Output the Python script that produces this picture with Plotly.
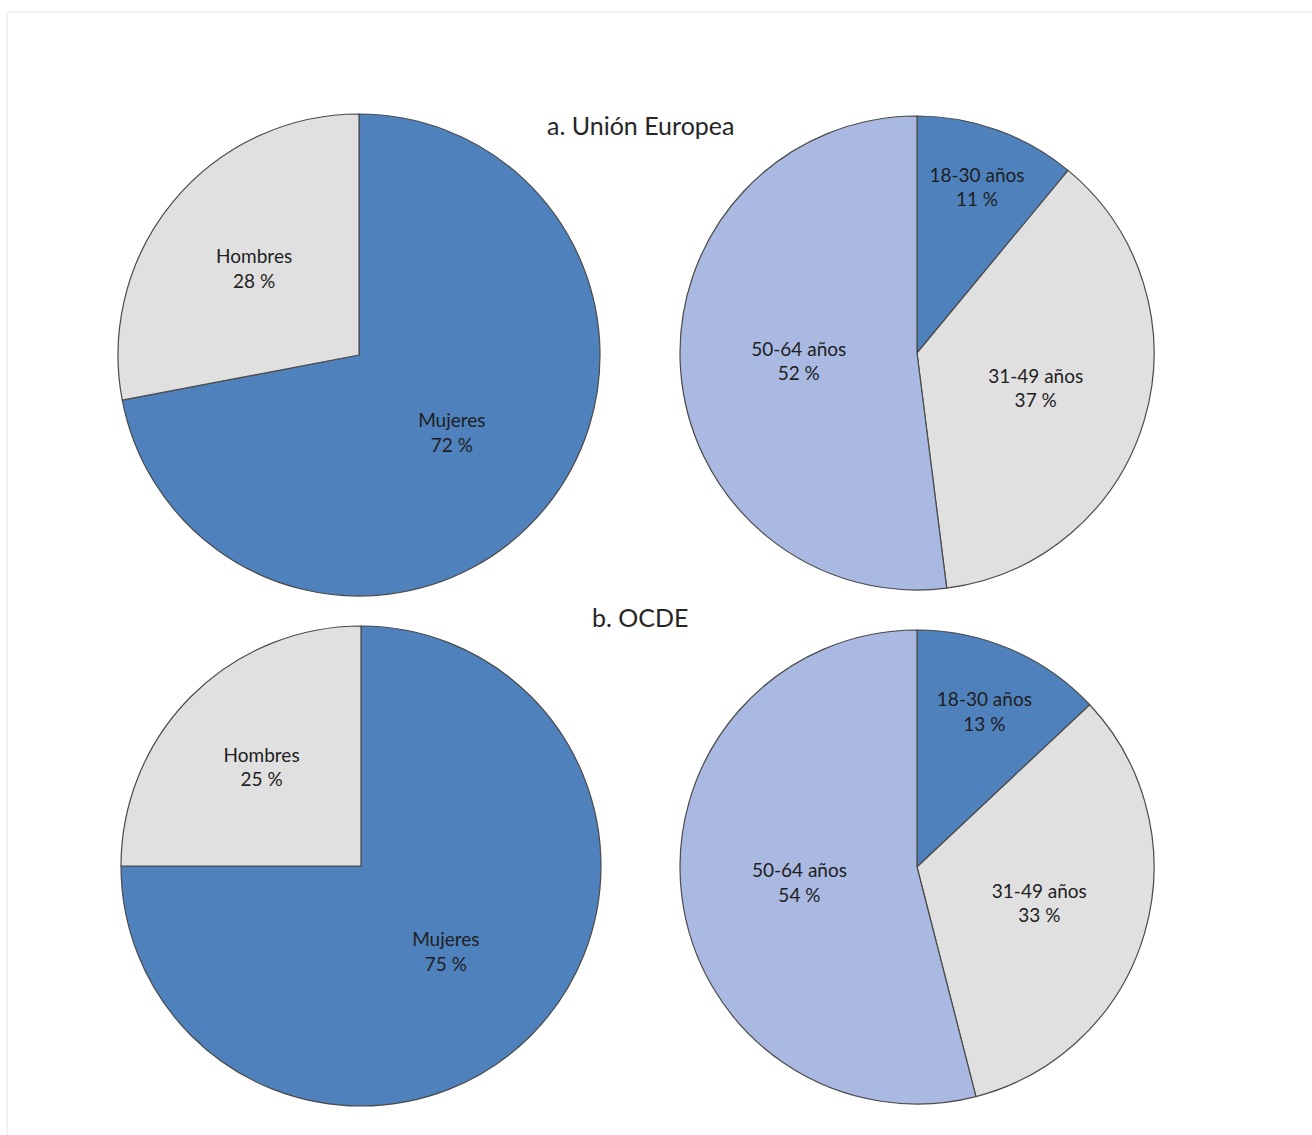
import plotly.graph_objects as go

sex_labels = ["Mujeres", "Hombres"]
age_labels = ["18-30 años", "31-49 años", "50-64 años"]
ue_sex = [72, 28]
ue_age = [11, 37, 52]
ocde_sex = [75, 25]
ocde_age = [13, 33, 54]
titles = ["a. Unión Europea", "b. OCDE"]

W, H = 1312, 1135
sex_colors = ["#4F81BD", "#E0E0E0"]
age_colors = ["#4F81BD", "#E0E0E0", "#A9B9E1"]
FONT = "Lato"

def dom(cx, cy, r):
    return dict(x=[(cx - r) / W, (cx + r) / W], y=[1 - (cy + r) / H, 1 - (cy - r) / H])

fig = go.Figure()
specs = [
    (sex_labels, ue_sex, sex_colors, dom(359, 355, 241)),
    (age_labels, ue_age, age_colors, dom(917, 353, 237)),
    (sex_labels, ocde_sex, sex_colors, dom(361, 866, 240)),
    (age_labels, ocde_age, age_colors, dom(917, 867, 237)),
]
for labels, vals, cols, d in specs:
    fig.add_trace(go.Pie(
        labels=labels, values=vals, sort=False, direction="clockwise", rotation=0,
        marker=dict(colors=cols, line=dict(color="#4A4A4A", width=1.2)),
        texttemplate="%{label}<br>%{value} %", textposition="inside",
        insidetextorientation="horizontal",
        insidetextfont=dict(family=FONT, size=19, color="#1e1e1e"),
        domain=d, showlegend=False, hoverinfo="label+value",
    ))

for t, ypx in zip(titles, [125, 617]):
    fig.add_annotation(text=t, x=640 / W, y=1 - ypx / H, xref="paper", yref="paper",
                       xanchor="center", yanchor="middle", showarrow=False,
                       font=dict(family=FONT, size=25, color="#262626"))

fig.add_shape(type="rect", xref="paper", yref="paper", x0=7 / W, x1=1.01, y0=-0.01, y1=1 - 12 / H,
              line=dict(color="#EEEEEE", width=1.5), layer="below")

fig.update_layout(width=W, height=H, margin=dict(l=0, r=0, t=0, b=0),
                  paper_bgcolor="white", plot_bgcolor="white",
                  font=dict(family=FONT))
fig.write_html("out.html")
